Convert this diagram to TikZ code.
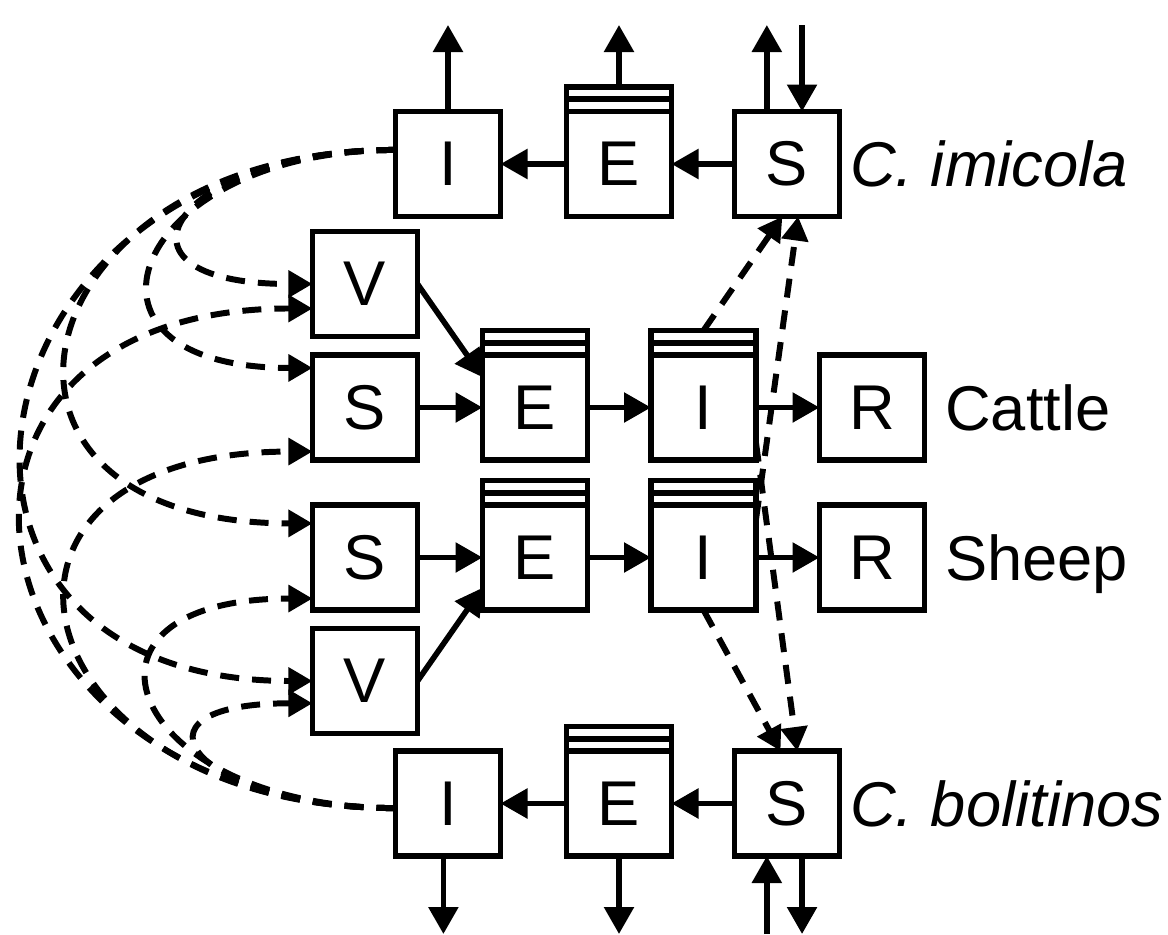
\documentclass[tikz,border=0pt]{standalone}
\usepackage{fontspec}
\setmainfont{Liberation Sans}
\usetikzlibrary{arrows.meta, positioning}

\begin{document}
\begin{tikzpicture}[
    every node/.append style={font=\fontsize{18pt}{21pt}\selectfont},
    % compartment styles
    box/.style={draw, line width=1.6pt, minimum size=1.05cm, inner sep=0pt, outer sep=0pt},
    lid/.style={draw, line width=1.6pt, minimum width=1.05cm, minimum height=0.245cm, inner sep=0pt, outer sep=0pt, anchor=south,
        path picture={\draw[line width=1.6pt] (path picture bounding box.west) -- (path picture bounding box.east);}},
    species/.style={inner sep=0pt, text height=0.45cm, text depth=0pt},
    arrow/.style={->, >={Triangle[length=2.7mm, width=2.9mm]}, line width=1.6pt},
    vecarrow/.style={->, >={Triangle[length=2.4mm, width=2.6mm]}, line width=1.7pt, dash pattern=on 1.9mm off 1.3mm},
]
\useasboundingbox (0,0) rectangle (11.68,-9.35);

\coordinate (top) at (0,-0.25);
\coordinate (bot) at (0,-9.34);

% ========== C. imicola ==========
\node[box] (iim) at (4.48,-1.64) {I};
\node[box] (eim) at (6.19,-1.64) {E};
\node[box] (sim) at (7.87,-1.64) {S};
\node[lid] (eimlid) at (eim.north) {};
\node[species, right=1mm of sim] (imicola) {\textit{C. imicola}};

\draw[arrow] (sim.west) -- (eim.east);
\draw[arrow] (eim.west) -- (iim.east);
\draw[arrow] (iim.north) -- (iim.north |- top);
\draw[arrow] (eimlid.north) -- (eimlid.north |- top);
\draw[arrow] (sim.111) -- (sim.111 |- top);
\draw[arrow] (sim.74 |- top) -- (sim.74);

% ========== Cattle ==========
\node[box] (vu) at (3.65,-2.84) {V};
\node[box] (sc) at (3.65,-4.075) {S};
\node[box] (ec) at (5.35,-4.075) {E};
\node[box] (ic) at (7.035,-4.075) {I};
\node[box] (rc) at (8.72,-4.075) {R};
\node[lid] (eclid) at (ec.north) {};
\node[lid] (iclid) at (ic.north) {};
\node[species, right=2mm of rc] (cattle) {Cattle};

\draw[arrow] (vu.east) -- (ec.150);
\draw[arrow] (sc.east) -- (ec.west);
\draw[arrow] (ec.east) -- (ic.west);
\draw[arrow] (ic.east) -- (rc.west);

% ========== Sheep ==========
\node[box] (ss) at (3.65,-5.575) {S};
\node[box] (es) at (5.35,-5.575) {E};
\node[box] (is) at (7.035,-5.575) {I};
\node[box] (rs) at (8.72,-5.575) {R};
\node[box] (vl) at (3.65,-6.81) {V};
\node[lid] (eslid) at (es.north) {};
\node[lid] (islid) at (is.north) {};
\node[species, right=2mm of rs] (sheep) {Sheep};

\draw[arrow] (vl.east) -- (es.210);
\draw[arrow] (ss.east) -- (es.west);
\draw[arrow] (es.east) -- (is.west);
\draw[arrow] (is.east) -- (rs.west);

% ========== C. bolitinos ==========
\node[box] (ibo) at (4.48,-8.035) {I};
\node[box] (ebo) at (6.19,-8.035) {E};
\node[box] (sbo) at (7.87,-8.035) {S};
\node[lid] (ebolid) at (ebo.north) {};
\node[species, right=1mm of sbo] (bolitinos) {\textit{C. bolitinos}};

\draw[arrow] (sbo.west) -- (ebo.east);
\draw[arrow] (ebo.west) -- (ibo.east);
\draw[arrow] (ibo.265) -- (ibo.265 |- bot);
\draw[arrow] (ebo.south) -- (ebo.south |- bot);
\draw[arrow] (sbo.249 |- bot) -- (sbo.249);
\draw[arrow] (sbo.286) -- (sbo.286 |- bot);

% ========== host -> vector ==========
\draw[vecarrow] (iclid.north) -- (sim.265);
\draw[vecarrow] (is.36) -- (sim.282);
\draw[vecarrow] (ic.326) -- (sbo.79);
\draw[vecarrow] (is.south) -- (sbo.97);

% ========== vector -> host ==========
\draw[vecarrow] (iim.165) .. controls +(-2.23,0) and +(-2.23,0) .. (vu.west);
\draw[vecarrow] (iim.165) .. controls +(-2.65,0) and +(-2.65,0) .. (sc.143);
\draw[vecarrow] (iim.165) .. controls +(-3.78,0) and +(-3.78,0) .. (ss.147);
\draw[vecarrow] (iim.165) .. controls +(-4.37,0) and +(-4.37,0) .. (vl.west);
\draw[vecarrow] (ibo.185) .. controls +(-4.38,0) and +(-4.38,0) .. (vu.205);
\draw[vecarrow] (ibo.185) .. controls +(-3.78,0) and +(-3.78,0) .. (sc.220);
\draw[vecarrow] (ibo.185) .. controls +(-2.67,0) and +(-2.67,0) .. (ss.218);
\draw[vecarrow] (ibo.185) .. controls +(-2.0,0) and +(-2.0,0) .. (vl.203);

\end{tikzpicture}
\end{document}
